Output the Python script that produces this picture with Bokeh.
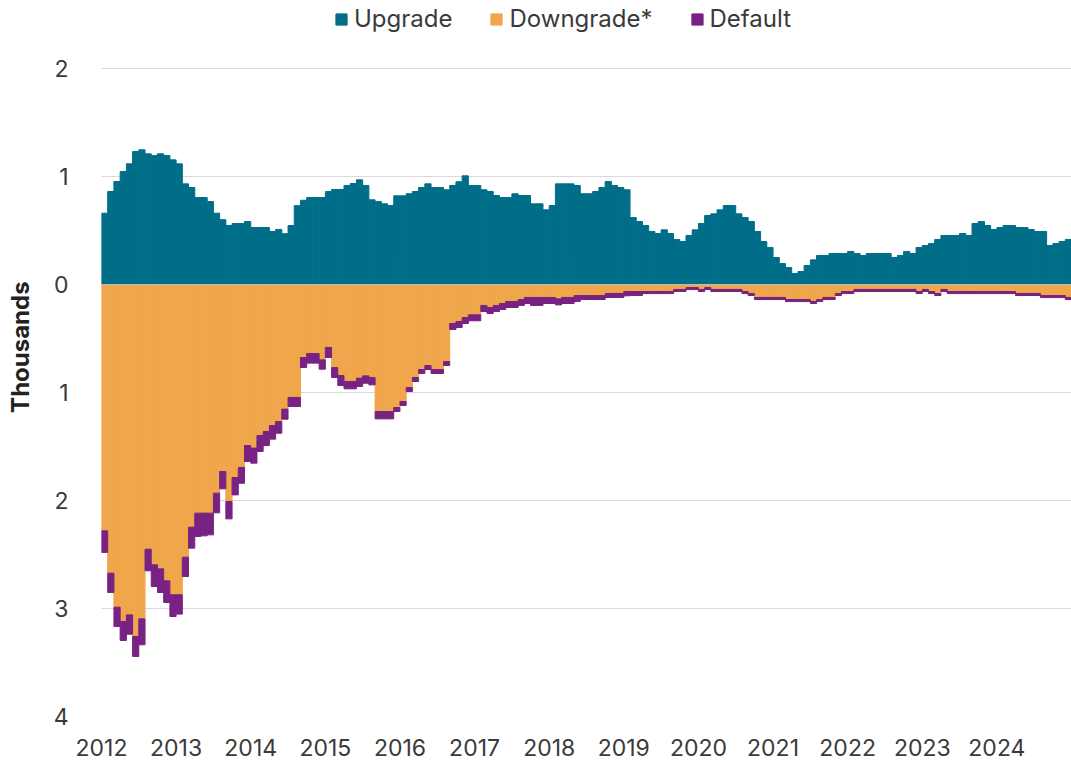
from bokeh.plotting import figure
from bokeh.models import (ColumnDataSource, FixedTicker, Legend, LegendItem, Span,
                          CustomJSTickFormatter)
from bokeh.embed import file_html
from bokeh.resources import INLINE

# ---- data (monthly, Jan 2012 - Dec 2024), counts ----
years = [2012, 2013, 2014, 2015, 2016, 2017, 2018, 2019, 2020, 2021, 2022, 2023, 2024]

upgrade = [
    660, 861, 954, 1046, 1117, 1231, 1247, 1210, 1194, 1210,
    1194, 1154, 1117, 932, 898, 805, 805, 768, 660, 600,
    546, 565, 565, 583, 528, 528, 528, 490, 510, 470,
    546, 730, 780, 805, 805, 805, 860, 880, 880, 917,
    935, 969, 917, 784, 769, 747, 731, 821, 821, 840,
    861, 898, 932, 898, 898, 877, 917, 951, 1006, 917,
    917, 877, 861, 824, 806, 806, 840, 824, 824, 747,
    747, 691, 731, 932, 932, 932, 917, 840, 840, 861,
    898, 954, 917, 898, 877, 620, 583, 546, 491, 472,
    506, 472, 417, 398, 454, 506, 565, 639, 654, 691,
    731, 731, 654, 620, 583, 491, 398, 343, 250, 194,
    157, 102, 120, 176, 228, 269, 269, 287, 287, 287,
    306, 287, 269, 287, 287, 287, 287, 250, 269, 306,
    287, 343, 361, 380, 417, 454, 454, 454, 472, 454,
    565, 583, 546, 509, 528, 546, 546, 528, 528, 509,
    491, 491, 361, 380, 398, 417,
]

downgrade = [
    2281, 2673, 2988, 3120, 3059, 3259, 3096, 2451, 2596, 2633,
    2744, 2873, 2873, 2525, 2247, 2117, 2117, 2117, 1932, 1731,
    2009, 1787, 1694, 1491, 1515, 1398, 1361, 1306, 1269, 1154,
    1046, 1046, 676, 639, 639, 698, 583, 769, 843, 898,
    898, 867, 846, 861, 1176, 1176, 1176, 1139, 1083, 954,
    861, 787, 750, 787, 787, 713, 361, 343, 306, 281,
    281, 194, 213, 194, 176, 157, 157, 139, 120, 120,
    120, 120, 120, 133, 120, 120, 102, 102, 102, 102,
    102, 83, 83, 83, 65, 65, 65, 65, 65, 65,
    65, 65, 46, 46, 28, 28, 46, 28, 46, 46,
    46, 46, 46, 65, 83, 120, 120, 120, 120, 120,
    139, 139, 139, 139, 157, 139, 120, 120, 83, 65,
    65, 46, 46, 46, 46, 46, 46, 46, 46, 46,
    46, 65, 46, 65, 83, 46, 65, 65, 65, 65,
    65, 65, 65, 65, 65, 65, 65, 83, 83, 83,
    83, 102, 102, 102, 102, 120,
]

default = [
    200, 179, 179, 176, 179, 185, 240, 200, 200, 219,
    200, 201, 179, 179, 194, 216, 210, 201, 182, 161,
    161, 161, 146, 148, 139, 148, 130, 126, 108, 93,
    84, 84, 93, 89, 89, 86, 93, 92, 92, 68,
    68, 77, 68, 68, 68, 68, 68, 37, 37, 37,
    37, 37, 37, 37, 37, 37, 56, 55, 55, 55,
    55, 56, 56, 56, 55, 56, 56, 55, 56, 74,
    74, 56, 56, 56, 56, 56, 55, 37, 37, 37,
    37, 37, 37, 37, 40, 37, 37, 19, 19, 19,
    19, 19, 19, 19, 19, 19, 19, 19, 19, 19,
    19, 19, 19, 19, 19, 19, 19, 19, 19, 19,
    19, 19, 19, 19, 19, 19, 19, 19, 19, 19,
    19, 19, 19, 19, 19, 19, 19, 19, 19, 19,
    19, 19, 19, 19, 19, 19, 19, 19, 19, 19,
    19, 19, 19, 19, 19, 19, 19, 19, 19, 19,
    19, 19, 19, 19, 19, 19,
]

y_ticks = [-4, -3, -2, -1, 0, 1, 2]

TEAL = "#006e88"
ORANGE = "#f0a64b"
PURPLE = "#782283"
TEXT = "#3a3a3a"
FONT = "Inter"

W, H = 1071, 764
LEFT, BOTTOM, TOP_PAD = 101, 48, 68          # pixels
PX_PER_K = (H - BOTTOM - TOP_PAD) / (max(y_ticks) - min(y_ticks))

n = len(upgrade)
src = ColumnDataSource(dict(
    x=[i + 0.5 for i in range(n)],
    up=[v / 1000 for v in upgrade],
    dn=[-v / 1000 for v in downgrade],
    df=[-(d + f) / 1000 for d, f in zip(downgrade, default)],
    zero=[0.0] * n,
))

# the frame reaches the top of the canvas so the legend can sit inside it
p = figure(width=W, height=H, x_range=(0, n),
           y_range=(min(y_ticks), max(y_ticks) + TOP_PAD / PX_PER_K),
           output_backend="svg", toolbar_location=None,
           min_border_left=LEFT, min_border_right=0, min_border_top=0,
           min_border_bottom=BOTTOM)
p.outline_line_color = None
p.background_fill_color = "white"

r_up = p.vbar(x="x", width=1, bottom="zero", top="up", source=src,
              fill_color=TEAL, line_color=TEAL, line_width=1)
r_dn = p.vbar(x="x", width=1, bottom="dn", top="zero", source=src,
              fill_color=ORANGE, line_color=ORANGE, line_width=1)
r_df = p.vbar(x="x", width=1, bottom="df", top="dn", source=src,
              fill_color=PURPLE, line_color=PURPLE, line_width=1)

p.add_layout(Span(location=0, dimension="width", line_color="#a9c2c9",
                  line_width=1, level="overlay"))

# grid
p.xgrid.grid_line_color = None
p.ygrid.grid_line_color = "#d9d9d9"
p.ygrid.grid_line_width = 1
p.ygrid.ticker = FixedTicker(ticks=y_ticks)

# x axis
xa = p.xaxis[0]
xa.ticker = FixedTicker(ticks=[12 * i for i in range(len(years))])
xa.major_label_overrides = {12 * i: str(y) for i, y in enumerate(years)}
xa.axis_line_color = None
xa.major_tick_line_color = None
xa.minor_tick_line_color = None
xa.major_label_standoff = 16
xa.major_label_text_font = FONT
xa.major_label_text_font_size = "23px"
xa.major_label_text_color = TEXT

# y axis
ya = p.yaxis[0]
ya.ticker = FixedTicker(ticks=y_ticks)
ya.formatter = CustomJSTickFormatter(code="return Math.abs(tick).toFixed(0);")
ya.axis_line_color = None
ya.major_tick_line_color = None
ya.minor_tick_line_color = None
ya.major_label_standoff = 27
ya.major_label_text_font = FONT
ya.major_label_text_font_size = "23px"
ya.major_label_text_color = TEXT
# leading no-break spaces lift the title slightly, as in the source
ya.axis_label = "\u00a0" * 4 + "Thousands"
ya.axis_label_text_font = FONT
ya.axis_label_text_font_style = "bold"
ya.axis_label_text_font_size = "24px"
ya.axis_label_text_color = "#222222"
ya.axis_label_standoff = 16

legend = Legend(items=[
    LegendItem(label="Upgrade", renderers=[r_up]),
    LegendItem(label="Downgrade*", renderers=[r_dn]),
    LegendItem(label="Default", renderers=[r_df]),
], orientation="horizontal", location=(233, 683))
legend.glyph_width = 14
legend.glyph_height = 14
legend.label_standoff = 6
legend.spacing = 37
legend.padding = 0
legend.margin = 0
legend.border_line_color = None
legend.background_fill_alpha = 0
legend.label_text_font = FONT
legend.label_text_font_size = "24px"
legend.label_text_color = TEXT
p.add_layout(legend)

open("out.html", "w").write(file_html(p, INLINE))
